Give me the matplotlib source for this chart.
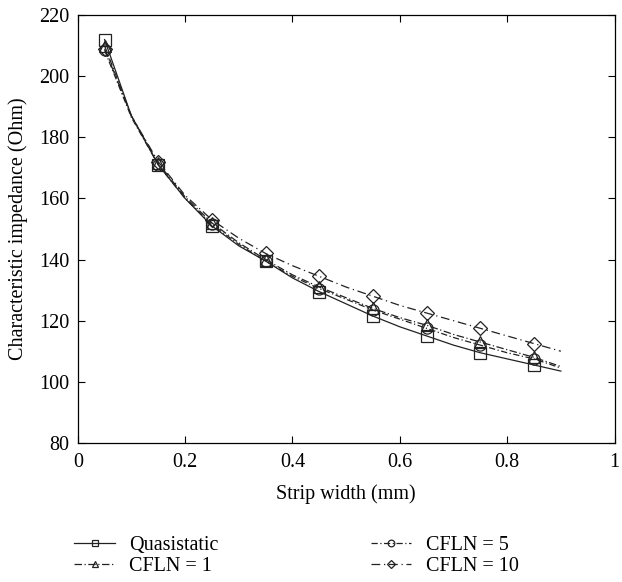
import numpy as np
import matplotlib
matplotlib.use('Agg')
import matplotlib.pyplot as plt

plt.rcParams['font.family'] = ['Liberation Serif', 'DejaVu Serif']

# strip width (mm), markers every other point
width = [0.05, 0.10, 0.15, 0.20, 0.25, 0.30, 0.35, 0.40, 0.45,
         0.50, 0.55, 0.60, 0.65, 0.70, 0.75, 0.80, 0.85, 0.90]
quasistatic = [212, 187, 171, 160, 151, 144.5, 139.5, 134, 129.5,
               125.5, 121.5, 118, 115, 112, 109.5, 107.5, 105.5, 103.5]
cfln1 = [210, 187, 171.5, 160.5, 152, 145.5, 140, 135, 131,
         127.5, 124, 121, 118.5, 115.5, 113, 110.5, 108, 105]
cfln5 = [208.5, 186.5, 171, 160, 151.5, 145, 139.5, 134.5, 130.5,
         127, 123.5, 120.5, 117.5, 114.5, 112, 109.5, 107.5, 104.5]
cfln10 = [209, 187, 172, 161, 153, 147, 142, 138, 134.5,
          131, 128, 125, 122.5, 120, 117.5, 115, 112.5, 110]

fig = plt.figure(figsize=(6.22, 5.82), dpi=100)
ax = fig.add_axes([0.125, 0.239, 0.863, 0.735])

mk = list(range(0, 17, 2))
kw = dict(color='#222222', lw=0.9, ms=8, mfc='none', mew=0.9, markevery=mk)
ax.plot(width, quasistatic, '-', marker='s', label='Quasistatic', **kw)
ax.plot(width, cfln1, linestyle=(0, (6, 2, 1, 2)), marker='^', label='CFLN = 1', **kw)
ax.plot(width, cfln5, linestyle=(0, (5, 2, 1, 2)), marker='o', label='CFLN = 5', **kw)
ax.plot(width, cfln10, linestyle=(0, (7, 3, 1, 3)), marker='D', label='CFLN = 10',
        **{**kw, 'ms': 7})

ax.set_xlim(0, 1)
ax.set_ylim(80, 220)
ax.set_xticks([0, 0.2, 0.4, 0.6, 0.8, 1])
ax.set_xticklabels(['0', '0.2', '0.4', '0.6', '0.8', '1'])
ax.set_yticks(range(80, 221, 20))
ax.tick_params(direction='in', top=True, right=True, labelsize=14.5, length=5, width=0.8)
ax.tick_params(axis='x', pad=7)
ax.tick_params(axis='y', pad=6)
for s in ax.spines.values():
    s.set_linewidth(0.9)
ax.set_xlabel('Strip width (mm)', fontsize=14.5, labelpad=9)
ax.set_ylabel('Characteristic impedance (Ohm)', fontsize=14.5, labelpad=8)

ax.legend(loc='upper left', bbox_to_anchor=(-0.04, -0.175), ncol=2, frameon=False,
          fontsize=14.5, handlelength=2, markerscale=0.6, columnspacing=7.6,
          labelspacing=0.1, handletextpad=0.7)

fig.savefig('out.png', dpi=100)
